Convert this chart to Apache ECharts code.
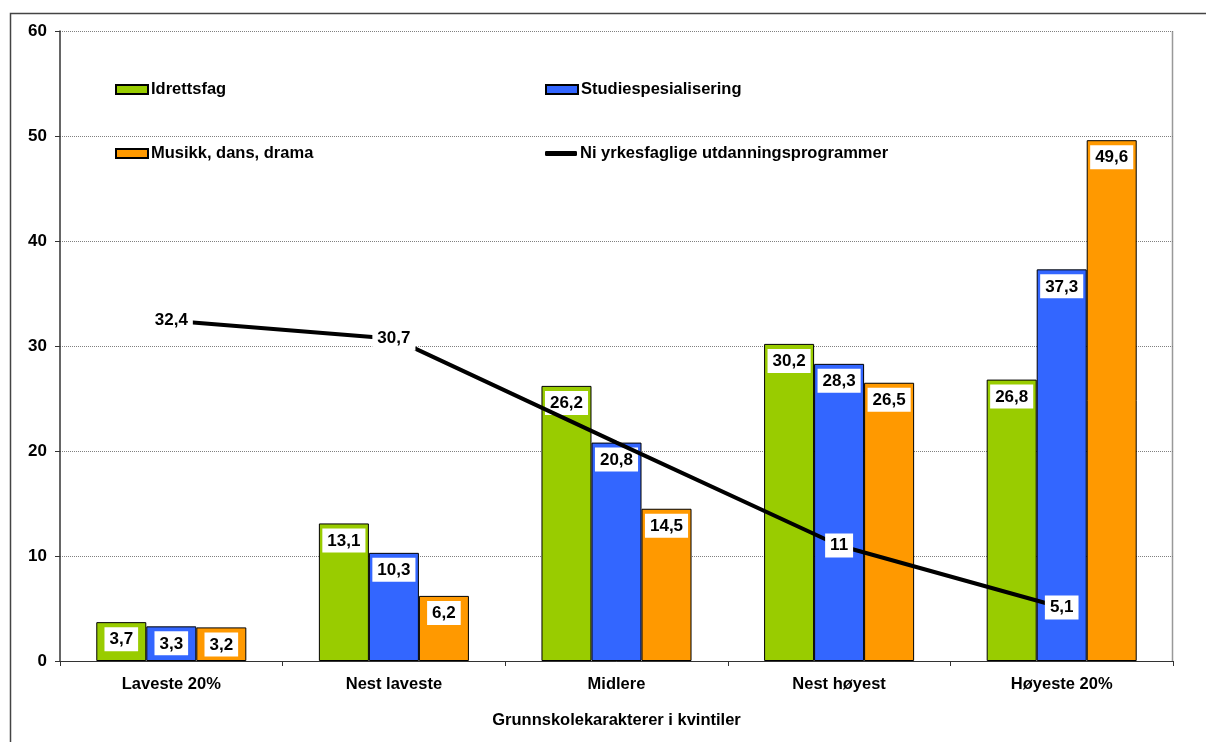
<!DOCTYPE html>
<html>
<head>
<meta charset="utf-8">
<script src="https://cdn.jsdelivr.net/npm/echarts@6/dist/echarts.min.js"></script>
<style>
html,body{margin:0;padding:0;background:#fff;}
#chart{width:1206px;height:742px;}
</style>
</head>
<body>
<div id="chart"></div>
<script>
const categories = ['Laveste 20%', 'Nest laveste', 'Midlere', 'Nest høyest', 'Høyeste 20%'];
const idrettsfag = [3.7, 13.1, 26.2, 30.2, 26.8];
const studiespesialisering = [3.3, 10.3, 20.8, 28.3, 37.3];
const musikk = [3.2, 6.2, 14.5, 26.5, 49.6];
const yrkesfag = [32.4, 30.7, 20.8, 11, 5.1];
const yrkesfagHiddenLabels = [2];
const yTicks = { min: 0, max: 60, interval: 10 };
const xAxisTitle = 'Grunnskolekarakterer i kvintiler';

const FONT = '"Liberation Sans", Arial, sans-serif';
const TXT = 16.5;
const VAL = 17;
const fmt = v => String(v).replace('.', ',');

const barLabel = {
  show: true,
  position: 'insideTop',
  distance: 5,
  backgroundColor: '#fff',
  padding: [4, 5, 3, 5],
  color: '#000',
  fontWeight: 'bold',
  fontSize: VAL,
  fontFamily: FONT,
  formatter: p => fmt(p.value)
};

function barSeries(name, data, color) {
  return {
    name, type: 'bar', data,
    barGap: '0%', barCategoryGap: '32.6%',
    itemStyle: { color, borderColor: '#000', borderWidth: 1 },
    label: barLabel,
    emphasis: { disabled: true }
  };
}

const legendBase = {
  orient: 'horizontal',
  padding: 0,
  itemWidth: 32, itemHeight: 9, itemGap: 4,
  textStyle: { fontSize: TXT, fontWeight: 'bold', fontFamily: FONT, color: '#000', padding: [0, 0, 0, -2] },
  selectedMode: false
};

const chart = echarts.init(document.getElementById('chart'), null, { renderer: 'canvas' });
chart.setOption({
  animation: false,
  backgroundColor: '#fff',
  textStyle: { fontFamily: FONT },
  graphic: [{
    type: 'rect', z: -10,
    shape: { x: 10.5, y: 13.5, width: 1210, height: 740 },
    style: { fill: 'none', stroke: '#444', lineWidth: 1.5 }
  }, {
    type: 'line', z: -5,
    shape: { x1: 1172.5, y1: 31, x2: 1172.5, y2: 661 },
    style: { stroke: '#999', lineWidth: 1.5 }
  }],
  grid: { left: 60, right: 33, top: 31, bottom: 81, containLabel: false },
  legend: [
    Object.assign({}, legendBase, { left: 115, top: 81, data: [{ name: 'Idrettsfag', icon: 'rect' }] }),
    Object.assign({}, legendBase, { left: 545, top: 81, data: [{ name: 'Studiespesialisering', icon: 'rect' }] }),
    Object.assign({}, legendBase, { left: 115, top: 145, data: [{ name: 'Musikk, dans, drama', icon: 'rect' }] }),
    Object.assign({}, legendBase, { left: 545, top: 145, itemHeight: 5, data: [{ name: 'Ni yrkesfaglige utdanningsprogrammer', icon: 'roundRect', itemStyle: { color: '#000', borderWidth: 0 } }] })
  ],
  xAxis: {
    type: 'category',
    data: categories,
    boundaryGap: true,
    axisLine: { lineStyle: { color: '#333', width: 1 } },
    axisTick: { show: true, length: 5, lineStyle: { color: '#333' } },
    axisLabel: { margin: 15, fontSize: TXT, fontWeight: 'bold', color: '#000', fontFamily: FONT },
    name: xAxisTitle,
    nameLocation: 'middle',
    nameGap: 51,
    nameTextStyle: { fontSize: TXT, fontWeight: 'bold', color: '#000', fontFamily: FONT }
  },
  yAxis: {
    type: 'value',
    min: yTicks.min, max: yTicks.max, interval: yTicks.interval,
    axisLine: { show: true, lineStyle: { color: '#333', width: 1.5 } },
    axisTick: { show: true, length: 5, lineStyle: { color: '#333' } },
    axisLabel: { margin: 13, fontSize: VAL, fontWeight: 'bold', color: '#000', fontFamily: FONT },
    splitLine: { show: true, lineStyle: { color: '#808080', type: [1, 1], width: 1 } }
  },
  series: [
    barSeries('Idrettsfag', idrettsfag, '#99CC00'),
    barSeries('Studiespesialisering', studiespesialisering, '#3366FF'),
    barSeries('Musikk, dans, drama', musikk, '#FF9900'),
    {
      name: 'Ni yrkesfaglige utdanningsprogrammer',
      type: 'line',
      data: yrkesfag.map((v, i) => yrkesfagHiddenLabels.includes(i) ? { value: v, label: { show: false } } : v),
      symbol: 'circle', symbolSize: 1,
      itemStyle: { color: '#000' },
      lineStyle: { color: '#000', width: 4 },
      z: 3,
      label: {
        show: true, position: 'inside',
        backgroundColor: '#fff',
        padding: [4, 5, 3, 5],
        color: '#000', fontWeight: 'bold', fontSize: VAL, fontFamily: FONT,
        formatter: p => fmt(p.value)
      },
      emphasis: { disabled: true }
    }
  ]
});
</script>
</body>
</html>
